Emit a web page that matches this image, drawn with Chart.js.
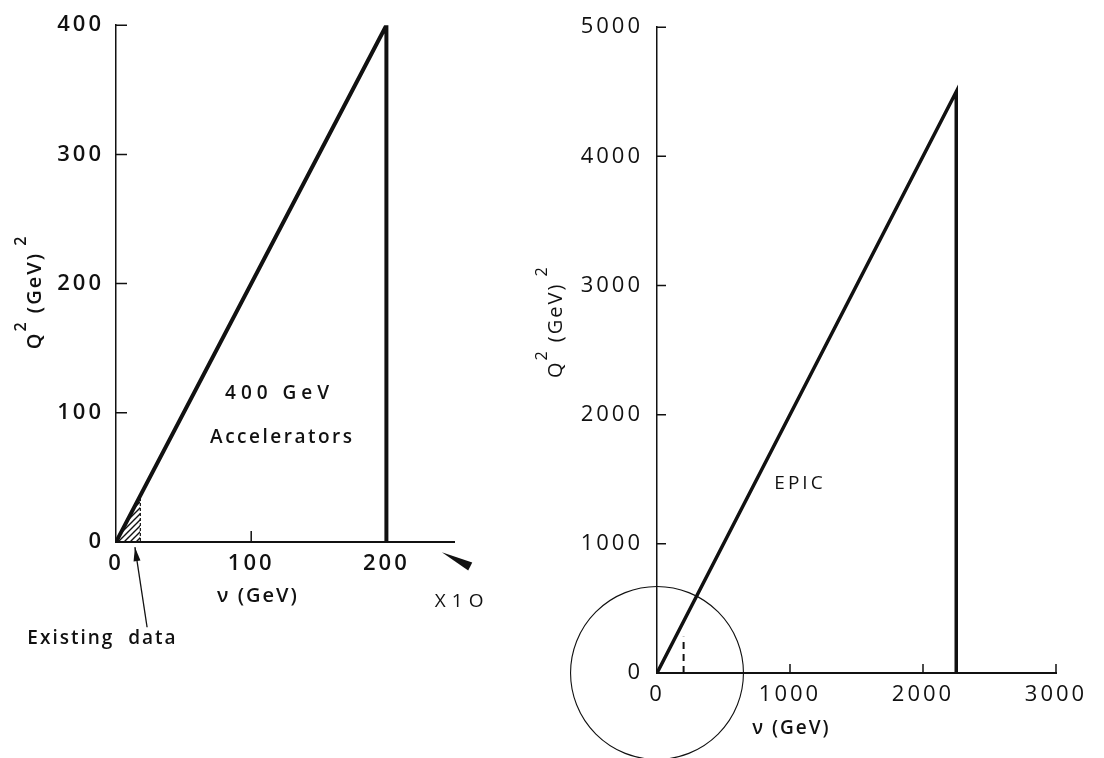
<!DOCTYPE html>
<html>
<head>
<meta charset="utf-8">
<title>Q² versus ν kinematic ranges</title>
<script src="https://cdn.jsdelivr.net/npm/chart.js@4/dist/chart.umd.min.js"></script>
<style>
  html, body { margin: 0; padding: 0; background: #fff; }
  #wrap { position: relative; width: 1104px; height: 758px; overflow: hidden; }
  .panel { position: absolute; top: 0; height: 758px; }
  #leftPanel { left: 0; width: 530px; }
  #rightPanel { left: 530px; width: 574px; }
</style>
</head>
<body>
<div id="wrap">
  <div class="panel" id="leftPanel"><canvas id="leftChart" width="530" height="758"></canvas></div>
  <div class="panel" id="rightPanel"><canvas id="rightChart" width="574" height="758"></canvas></div>
</div>
<script>
// ---- 400 GeV accelerators: kinematic boundary (ν in GeV, Q² in GeV²)
const leftNu = [0, 200, 200];
const leftQ2 = [0, 400, 0];
// region covered by existing data
const existingNu = [0, 18, 18];
const existingQ2 = [0, 36, 0];
const leftXTicks = [0, 100, 200];
const leftYTicks = [0, 100, 200, 300, 400];
const leftXMax = 250;
const leftYMax = 400;

// ---- EPIC: kinematic boundary
const rightNu = [0, 2250, 2250];
const rightQ2 = [0, 4500, 0];
// 200 GeV marker inside the magnified region
const markerNu = [200, 200];
const markerQ2 = [0, 280];
// radius (in ν units) of the circle around the origin
const circleRadiusNu = 650;
const rightXTicks = [0, 1000, 2000, 3000];
const rightYTicks = [0, 1000, 2000, 3000, 4000, 5000];
const rightXMax = 3000;
const rightYMax = 5000;

const INK = '#111';
const FONT = "'Open Sans', 'DejaVu Sans', sans-serif";

function pts(xs, ys) { return xs.map((x, i) => ({ x: x, y: ys[i] })); }

// diagonal hatch pattern for the existing-data region
function hatchPattern() {
  const c = document.createElement('canvas');
  c.width = 6; c.height = 6;
  const g = c.getContext('2d');
  g.strokeStyle = INK; g.lineWidth = 1.4;
  g.beginPath();
  g.moveTo(-1, 7); g.lineTo(7, -1);
  g.moveTo(-1, 1); g.lineTo(1, -1);
  g.moveTo(5, 7); g.lineTo(7, 5);
  g.stroke();
  return g.createPattern(c, 'repeat');
}

// ticks pointing into the plot area
function inwardTicks(chart, len, width) {
  const { ctx, scales: { x, y } } = chart;
  ctx.save();
  ctx.strokeStyle = INK;
  ctx.lineWidth = width;
  ctx.beginPath();
  x.ticks.forEach(t => {
    if (t.value === 0) return;
    const px = x.getPixelForValue(t.value);
    ctx.moveTo(px, y.bottom); ctx.lineTo(px, y.bottom - len);
  });
  y.ticks.forEach(t => {
    if (t.value === 0) return;
    const py = y.getPixelForValue(t.value);
    ctx.moveTo(x.left, py); ctx.lineTo(x.left + len, py);
  });
  ctx.stroke();
  ctx.restore();
}

// rotated axis title "Q² (GeV)²"
function q2Title(ctx, cx, cy, size, weight) {
  const parts = [
    { t: 'Q', sup: false },
    { t: '2', sup: true },
    { t: ' (GeV)', sup: false },
    { t: ' 2', sup: true }
  ];
  ctx.save();
  ctx.translate(cx, cy);
  ctx.rotate(-Math.PI / 2);
  ctx.fillStyle = INK;
  ctx.textBaseline = 'alphabetic';
  ctx.textAlign = 'left';
  ctx.letterSpacing = '2px';
  let total = 0;
  parts.forEach(p => {
    ctx.font = weight + ' ' + (p.sup ? size * 0.8 : size) + 'px ' + FONT;
    p.w = ctx.measureText(p.t).width;
    total += p.w;
  });
  let xx = -total / 2;
  parts.forEach(p => {
    ctx.font = weight + ' ' + (p.sup ? size * 0.8 : size) + 'px ' + FONT;
    ctx.fillText(p.t, xx, p.sup ? -size * 0.75 : 0);
    xx += p.w;
  });
  ctx.restore();
}

function text(ctx, str, x, y, size, weight, spacing, align) {
  ctx.save();
  ctx.fillStyle = INK;
  ctx.font = weight + ' ' + size + 'px ' + FONT;
  ctx.letterSpacing = spacing + 'px';
  ctx.textAlign = align || 'center';
  ctx.textBaseline = 'middle';
  ctx.fillText(str, x, y);
  ctx.restore();
}

function arrowHead(ctx, x0, y0, x1, y1, len, half) {
  const a = Math.atan2(y1 - y0, x1 - x0);
  ctx.beginPath();
  ctx.moveTo(x1, y1);
  ctx.lineTo(x1 - len * Math.cos(a) + half * Math.sin(a), y1 - len * Math.sin(a) - half * Math.cos(a));
  ctx.lineTo(x1 - len * Math.cos(a) - half * Math.sin(a), y1 - len * Math.sin(a) + half * Math.cos(a));
  ctx.closePath();
  ctx.fill();
}

const spacingPlugin = {
  id: 'spacing',
  beforeDraw(chart, args, opts) { chart.ctx.letterSpacing = opts.px + 'px'; },
  afterDraw(chart) { chart.ctx.letterSpacing = '0px'; }
};

function baseScales(xTicks, yTicks, xMax, yMax, yWidth, xHeight, fontWeight, fontSize, yPad, xPad) {
  const tickFont = { family: FONT, size: fontSize, weight: fontWeight };
  return {
    x: {
      type: 'linear', min: 0, max: xMax,
      afterBuildTicks: s => { s.ticks = xTicks.map(v => ({ value: v })); },
      afterFit: s => { s.height = xHeight; },
      grid: { display: true, drawOnChartArea: false, drawTicks: false },
      border: { display: true, color: INK, width: 2 },
      ticks: { color: INK, font: tickFont, padding: xPad, maxRotation: 0, autoSkip: false,
               callback: v => String(v) }
    },
    y: {
      type: 'linear', min: 0, max: yMax,
      afterBuildTicks: s => { s.ticks = yTicks.map(v => ({ value: v })); },
      afterFit: s => { s.width = yWidth; },
      grid: { display: true, drawOnChartArea: false, drawTicks: false },
      border: { display: true, color: INK, width: 1.5 },
      ticks: { color: INK, font: tickFont, padding: yPad, autoSkip: false,
               callback: v => String(v) }
    }
  };
}

// ---------------- left panel ----------------
new Chart(document.getElementById('leftChart'), {
  type: 'scatter',
  data: {
    datasets: [
      {
        label: 'Existing data',
        data: pts(existingNu, existingQ2),
        showLine: true, pointRadius: 0,
        borderColor: INK, borderWidth: 1.2, borderDash: [3, 2],
        backgroundColor: hatchPattern(), fill: true, order: 2
      },
      {
        label: '400 GeV Accelerators',
        data: pts(leftNu, leftQ2),
        showLine: true, pointRadius: 0,
        borderColor: INK, borderWidth: 4, borderJoinStyle: 'miter', fill: false, order: 1
      }
    ]
  },
  options: {
    responsive: false, animation: false,
    layout: { padding: { left: 0, top: 20, right: 76, bottom: 0 } },
    plugins: {
      legend: { display: false }, tooltip: { enabled: false }, spacing: { px: 3 }
    },
    scales: baseScales(leftXTicks, leftYTicks, leftXMax, leftYMax, 116, 216, '600', 22, 12, 9)
  },
  plugins: [spacingPlugin, {
    id: 'leftDecor',
    afterDraw(chart) {
      const { ctx, scales: { x, y } } = chart;
      inwardTicks(chart, 11, 1.5);
      q2Title(ctx, 41, 292, 20, '600');
      text(ctx, 'ν (GeV)', x.getPixelForValue(105), y.bottom + 54, 20, '600', 2);
      text(ctx, '400 GeV', x.getPixelForValue(121), y.getPixelForValue(115), 19, '600', 5);
      text(ctx, 'Accelerators', x.getPixelForValue(123), y.getPixelForValue(81), 19, '600', 2.5);
      // existing data label with arrow
      text(ctx, 'Existing  data', x.getPixelForValue(-10), y.getPixelForValue(-75), 19, '600', 2);
      const tx = x.getPixelForValue(23), ty = y.getPixelForValue(-66);
      const hx = x.getPixelForValue(14), hy = y.getPixelForValue(-4);
      ctx.save();
      ctx.strokeStyle = INK; ctx.fillStyle = INK; ctx.lineWidth = 1.3;
      ctx.beginPath(); ctx.moveTo(tx, ty); ctx.lineTo(hx, hy); ctx.stroke();
      arrowHead(ctx, tx, ty, hx, hy, 14, 3.5);
      // wedge marker at the end of the ν axis with the ×10 note
      const wx = x.getPixelForValue(241), wy = y.getPixelForValue(-8);
      const bx = x.getPixelForValue(262), by = y.getPixelForValue(-19);
      arrowHead(ctx, bx, by, wx, wy, Math.hypot(bx - wx, by - wy), 4.5);
      ctx.restore();
      text(ctx, 'X1O', x.getPixelForValue(256), y.getPixelForValue(-46), 19, '500', 6);
    }
  }]
});

// ---------------- right panel ----------------
new Chart(document.getElementById('rightChart'), {
  type: 'scatter',
  data: {
    datasets: [
      {
        label: 'EPIC',
        data: pts(rightNu, rightQ2),
        showLine: true, pointRadius: 0,
        borderColor: INK, borderWidth: 3.5, borderJoinStyle: 'miter', fill: false
      },
      {
        label: '200 GeV',
        data: pts(markerNu, markerQ2),
        showLine: true, pointRadius: 0,
        borderColor: INK, borderWidth: 2, borderDash: [7, 5], fill: false
      },
      {
        label: 'magnified region',
        data: [{ x: 0, y: 0 }],
        clip: false,
        pointStyle: 'circle',
        pointRadius: c => {
          const s = c.chart.scales.x;
          return s ? s.getPixelForValue(circleRadiusNu) - s.getPixelForValue(0) : 0;
        },
        pointBackgroundColor: 'rgba(0,0,0,0)',
        pointBorderColor: INK, pointBorderWidth: 1.1
      }
    ]
  },
  options: {
    responsive: false, animation: false,
    layout: { padding: { left: 0, top: 16, right: 48, bottom: 0 } },
    plugins: {
      legend: { display: false }, tooltip: { enabled: false }, spacing: { px: 3 }
    },
    scales: baseScales(rightXTicks, rightYTicks, rightXMax, rightYMax, 127, 85, '400', 22, 14, 9)
  },
  plugins: [spacingPlugin, {
    id: 'rightDecor',
    afterDraw(chart) {
      const { ctx, scales: { x, y } } = chart;
      inwardTicks(chart, 9, 1.5);
      // axis title sits left of the tick labels
      q2Title(ctx, x.left - 95, y.getPixelForValue(2720), 20, '500');
      text(ctx, 'ν (GeV)', x.getPixelForValue(1010), y.bottom + 56, 19, '600', 2);
      text(ctx, 'EPIC', x.getPixelForValue(1075), y.getPixelForValue(1470), 19, '500', 3);
    }
  }]
});
</script>
</body>
</html>
